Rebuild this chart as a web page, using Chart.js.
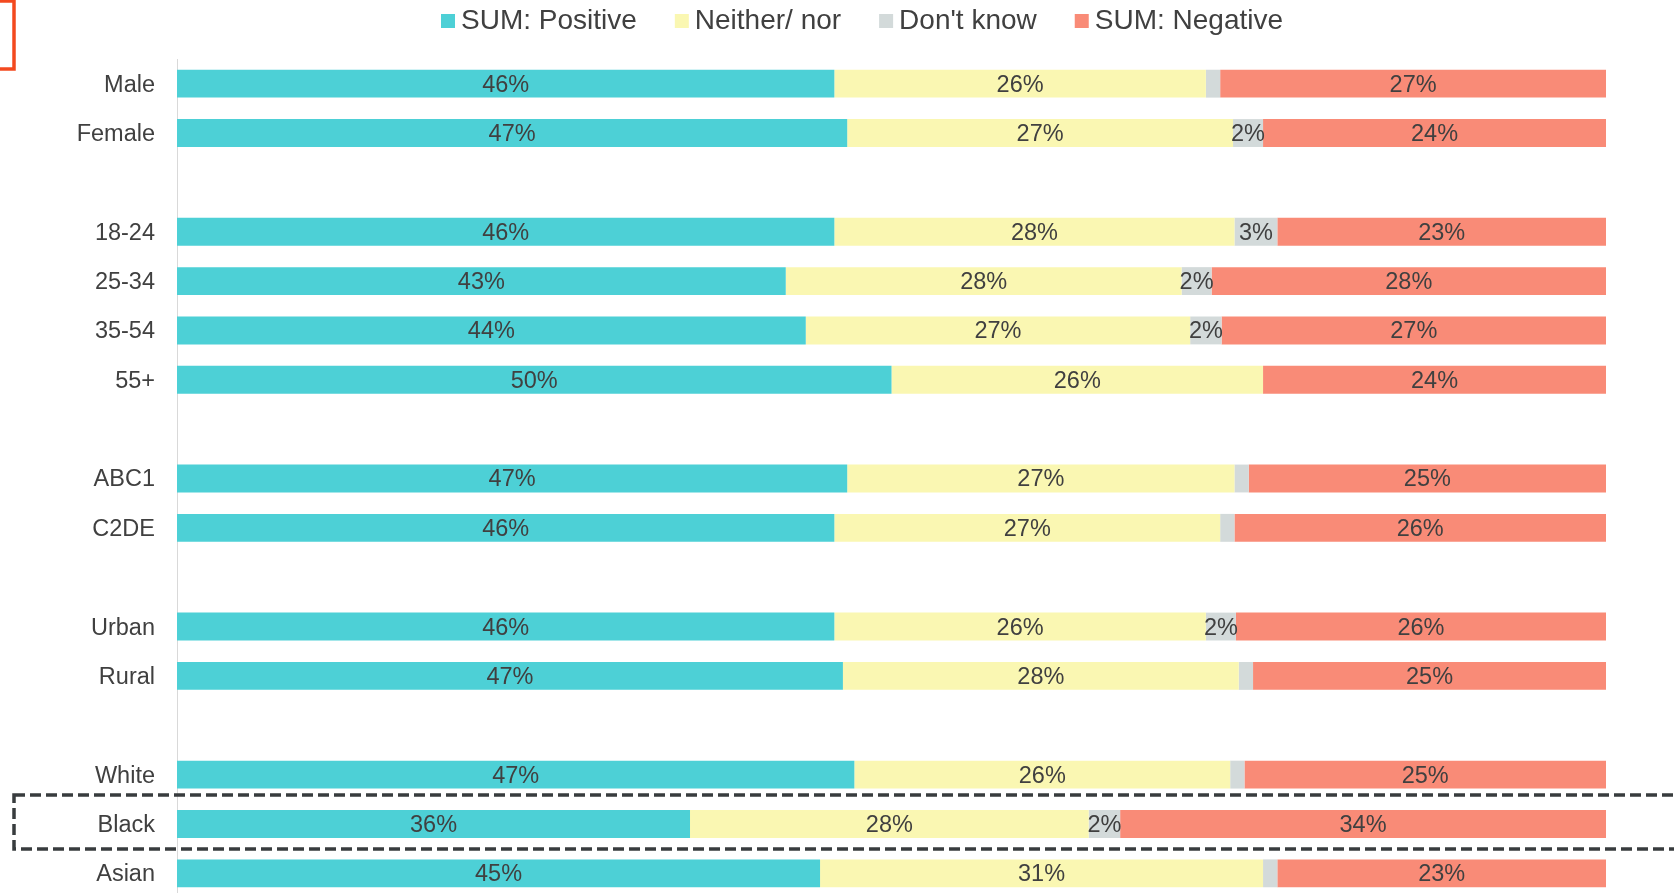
<!DOCTYPE html>
<html>
<head>
<meta charset="utf-8">
<script src="https://cdn.jsdelivr.net/npm/chart.js@4/dist/chart.umd.min.js"></script>
<style>
    html, body { margin: 0; padding: 0; background: #fff; overflow: hidden; }
    #wrap { position: relative; width: 1674px; height: 898px; }
</style>
</head>
<body>
<div id="wrap"><canvas id="attitudeChart" width="1674" height="898"></canvas></div>
<script>
// Rows (blank labels are the gaps between groups)
const categories = ['Male', 'Female', '', '18-24', '25-34', '35-54', '55+', '', 'ABC1', 'C2DE', '', 'Urban', 'Rural', '', 'White', 'Black', 'Asian'];

// Values (% of each row)
const positive = [46.0, 46.9, null, 46.0, 42.6, 44.0, 50.0, null, 46.9, 46.0, null, 46.0, 46.6, null, 47.4, 35.9, 45.0];
const neither  = [26.0, 27.0, null, 28.0, 27.7, 26.9, 26.0, null, 27.1, 27.0, null, 26.0, 27.7, null, 26.3, 27.9, 31.0];
const dontKnow = [1.0, 2.1, null, 3.0, 2.1, 2.2, 0, null, 1.0, 1.0, null, 2.1, 1.0, null, 1.0, 2.2, 1.0];
const negative = [27.0, 24.0, null, 23.0, 27.6, 26.9, 24.0, null, 25.0, 26.0, null, 25.9, 24.7, null, 25.3, 34.0, 23.0];

const seriesNames = ['SUM: Positive', 'Neither/ nor', "Don't know", 'SUM: Negative'];
const seriesColors = ['#4DD0D6', '#FAF7B2', '#D3DADA', '#F98B77'];

const FONT = '"Liberation Sans", Arial, sans-serif';
const TEXT = '#404040';

// Legend drawn by hand: small square, tight gap, text
const topLegend = {
    id: 'topLegend',
    afterDraw(chart) {
        const ctx = chart.ctx;
        ctx.save();
        ctx.font = '28px ' + FONT;
        ctx.textBaseline = 'middle';
        ctx.textAlign = 'left';
        let x = 441;
        const y = 21;
        chart.data.datasets.forEach(ds => {
            ctx.fillStyle = ds.backgroundColor;
            ctx.fillRect(x, y - 7, 14, 14);
            x += 20;
            ctx.fillStyle = TEXT;
            ctx.fillText(ds.label, x, y);
            x += ctx.measureText(ds.label).width + 38;
        });
        ctx.restore();
    }
};

// Percent labels in the middle of each segment
const segmentLabels = {
    id: 'segmentLabels',
    afterDatasetsDraw(chart) {
        const ctx = chart.ctx;
        ctx.save();
        ctx.font = '23.5px ' + FONT;
        ctx.fillStyle = TEXT;
        ctx.textAlign = 'center';
        ctx.textBaseline = 'middle';
        chart.data.datasets.forEach((ds, di) => {
            const meta = chart.getDatasetMeta(di);
            meta.data.forEach((bar, i) => {
                const v = ds.data[i];
                if (v == null || v < 1.5) return;
                const { x, y, base } = bar.getProps(['x', 'y', 'base'], true);
                ctx.fillText(Math.round(v) + '%', (x + base) / 2, y + 1.5);
            });
        });
        ctx.restore();
    }
};

// Dashed highlight round the "Black" row, plus the cut-off red frame top-left
const annotations = {
    id: 'annotations',
    afterDraw(chart) {
        const ctx = chart.ctx;
        const yScale = chart.scales.y;
        const yc = yScale.getPixelForValue(categories.indexOf('Black'));
        ctx.save();
        ctx.strokeStyle = '#383C3E';
        ctx.lineWidth = 3.5;
        ctx.setLineDash([11, 5]);
        ctx.strokeRect(14, yc - 29, chart.width + 20, 54);
        ctx.setLineDash([]);
        ctx.strokeStyle = '#F3491F';
        ctx.lineWidth = 3.5;
        ctx.strokeRect(-10, 1, 24, 68);
        ctx.restore();
    }
};

const ctx = document.getElementById('attitudeChart');
new Chart(ctx, {
    type: 'bar',
    data: {
        labels: categories,
        datasets: [positive, neither, dontKnow, negative].map((d, i) => ({
            label: seriesNames[i],
            data: d,
            backgroundColor: seriesColors[i],
            borderWidth: 0,
            categoryPercentage: 1,
            barPercentage: 0.565
        }))
    },
    options: {
        indexAxis: 'y',
        responsive: false,
        animation: false,
        layout: { padding: { top: 59, right: 68, bottom: 0, left: 0 } },
        plugins: {
            legend: { display: false },
            tooltip: { enabled: false }
        },
        scales: {
            x: {
                stacked: true,
                min: 0,
                max: 100,
                display: false
            },
            y: {
                stacked: true,
                grid: { display: false, drawTicks: false },
                border: { display: true, color: '#D9D9D9', width: 1 },
                ticks: {
                    color: TEXT,
                    font: { family: FONT, size: 23.5 },
                    padding: 22,
                    labelOffset: 1.5
                },
                afterFit(scale) {
                    // fixed axis width; let rows run to the bottom edge
                    scale.width = 177;
                    scale.paddingTop = 0;
                    scale.paddingBottom = 0;
                }
            }
        }
    },
    plugins: [topLegend, segmentLabels, annotations]
});
</script>
</body>
</html>
